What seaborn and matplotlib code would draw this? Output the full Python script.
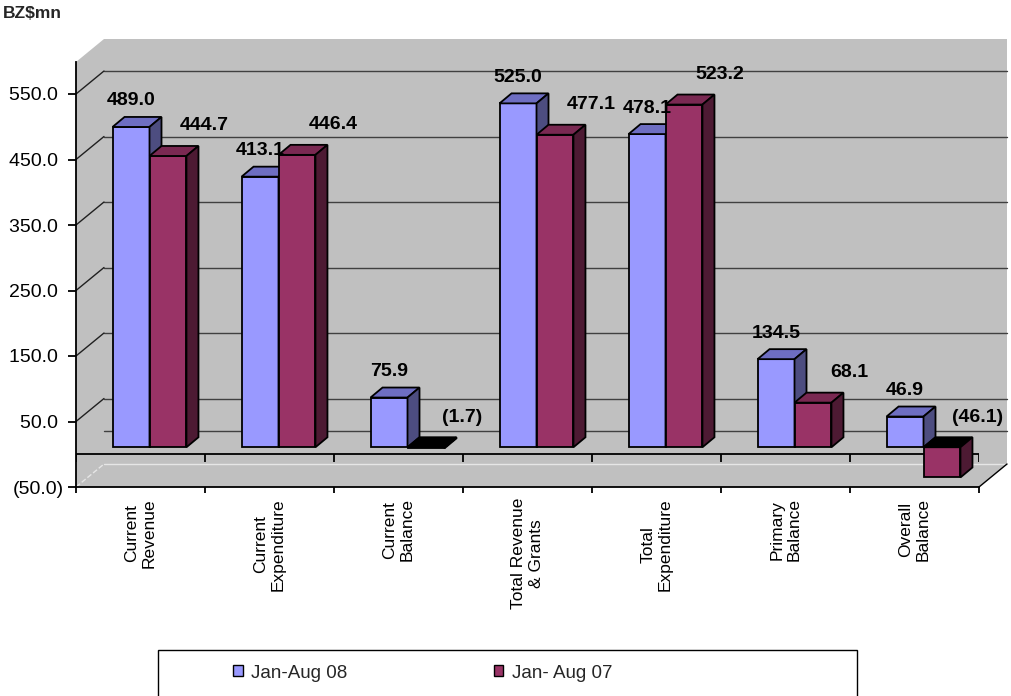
import matplotlib
matplotlib.use("Agg")
import matplotlib.pyplot as plt
import numpy as np
import pandas as pd
import seaborn as sns
from matplotlib.patches import Polygon, Rectangle, Patch
from matplotlib.transforms import ScaledTranslation

# ---------------- data ----------------
categories = ["Current\nRevenue", "Current\nExpenditure", "Current\nBalance",
              "Total Revenue\n& Grants", "Total\nExpenditure", "Primary\nBalance",
              "Overall\nBalance"]
series = ["Jan-Aug 08", "Jan- Aug 07"]
jan_aug_08 = [489.0, 413.1, 75.9, 525.0, 478.1, 134.5, 46.9]
jan_aug_07 = [444.7, 446.4, -1.7, 477.1, 523.2, 68.1, -46.1]
y_ticks = [-50, 50, 150, 250, 350, 450, 550]
unit_label = r"BZ\$mn"


def fmt(v):
    return f"({abs(v):.1f})" if v < 0 else f"{v:.1f}"


# ---------------- style ----------------
W, H, DPI = 1011, 696, 100
sns.set_theme(style="white")
plt.rcParams["font.family"] = ["Liberation Sans", "DejaVu Sans"]

front_c = ["#9999FF", "#993366"]
top_c = ["#6E6EC2", "#7A2952"]
side_c = ["#4D4D80", "#4D1A33"]
wall_c = "#C0C0C0"

fig = plt.figure(figsize=(W / DPI, H / DPI), dpi=DPI)
fig.patch.set_facecolor("white")
L, R, B, T = 76, 979, 487, 62          # front plane of the plot in pixels
ax = fig.add_axes([L / W, (H - B) / H, (R - L) / W, (B - T) / H])
ax.set_facecolor("none")

df = pd.DataFrame({
    "category": categories * 2,
    "series": [series[0]] * len(categories) + [series[1]] * len(categories),
    "value": jan_aug_08 + jan_aug_07,
})
sns.barplot(data=df, x="category", y="value", hue="series", order=categories,
            hue_order=series, palette=front_c, saturation=1, width=0.573,
            edgecolor="black", linewidth=1.3, legend=False, ax=ax)

ax.set_xlim(-0.5, len(categories) - 0.5)
ax.set_ylim(-50, -50 + (B - T) / (393 / 600))

p0 = ax.transData.transform((0, 0))
p1 = ax.transData.transform((1, 1))
sx, sy = p1[0] - p0[0], p1[1] - p0[1]   # pixels per data unit


def shift(dx, dy):
    return ax.transData + ScaledTranslation(dx / DPI, dy / DPI, fig.dpi_scale_trans)


# ---------------- walls / grid ----------------
WX, WY = 28, 23                        # depth of the walls in pixels
fx, fy = WX / (R - L), WY / (B - T)
ax.add_patch(Polygon([(0, 0), (0, 1), (fx, 1 + fy), (1 + fx, 1 + fy), (1 + fx, fy), (1, 0)],
                     closed=True, transform=ax.transAxes, facecolor=wall_c,
                     edgecolor="none", clip_on=False, zorder=0))
x_lo, x_hi = ax.get_xlim()
back = shift(WX, WY)
wdx, wdy = WX / sx, WY / sy
for yv in y_ticks:
    if yv == y_ticks[0]:
        ax.plot([x_lo, x_hi], [yv, yv], transform=back, color="#E6E6E6", lw=1, clip_on=False, zorder=1)
        ax.plot([x_lo, x_lo + wdx], [yv, yv + wdy], color="#E6E6E6", lw=1, ls="--", clip_on=False, zorder=1)
    else:
        ax.plot([x_lo, x_hi], [yv, yv], transform=back, color="#404040", lw=1, clip_on=False, zorder=1)
        ax.plot([x_lo, x_lo + wdx], [yv, yv + wdy], color="#202020", lw=1, clip_on=False, zorder=1)
ax.plot([x_lo, x_hi], [0, 0], transform=back, color="#404040", lw=1, clip_on=False, zorder=1)
# floor right edge
ax.plot([x_hi, x_hi + wdx], [-50, -50 + wdy], color="black", lw=1, clip_on=False, zorder=1)

# front zero line (category axis) with its ticks
bounds = np.arange(len(categories) + 1) - 0.5
ax.plot([x_lo, x_hi], [0, 0], color="black", lw=1.3, zorder=2)
ax.vlines(bounds, -8 / sy, 0, color="black", lw=1.3, zorder=2)

# ---------------- 3-D bars ----------------
bar_tr = shift(9, 7)
ddx, ddy = 12 / sx, 10 / sy
values = [jan_aug_08, jan_aug_07]
label_off = [(0, 26), (36, 30)]
for i, cont in enumerate(ax.containers):
    z = 3 + i
    for rect, v in zip(cont.patches, values[i]):
        rect.set_transform(bar_tr)
        rect.set_zorder(z)
        x0, w = rect.get_x(), rect.get_width()
        x1 = x0 + w
        y0, h = rect.get_y(), rect.get_height()
        yb, yt = min(y0, y0 + h), max(y0, y0 + h)
        ax.add_patch(Polygon([(x0, yt), (x1, yt), (x1 + ddx, yt + ddy), (x0 + ddx, yt + ddy)],
                             closed=True, facecolor=top_c[i] if v >= 0 else "black",
                             edgecolor="black", lw=1.3, transform=bar_tr, zorder=z))
        ax.add_patch(Polygon([(x1, yb), (x1, yt), (x1 + ddx, yt + ddy), (x1 + ddx, yb + ddy)],
                             closed=True, facecolor=side_c[i], edgecolor="black",
                             lw=1.3, transform=bar_tr, zorder=z))
        ax.annotate(fmt(v), xy=(x0 + w / 2, max(v, 0)), xycoords=bar_tr,
                    xytext=label_off[i], textcoords="offset pixels",
                    ha="center", va="center", fontsize=14, fontweight="bold",
                    color="black", zorder=6, annotation_clip=False)

# ---------------- axes ----------------
for s in ["top", "right"]:
    ax.spines[s].set_visible(False)
for s in ["left", "bottom"]:
    ax.spines[s].set_color("black")
    ax.spines[s].set_linewidth(1.3)
    ax.spines[s].set_zorder(2)

ax.set_yticks(y_ticks)
ax.set_yticklabels([fmt(v) if v < 0 else fmt(v) + " " for v in y_ticks], fontsize=14)
ax.tick_params(axis="y", direction="out", length=6, width=1.3, color="black", pad=3, labelcolor="black", left=True)

ax.set_xticks(bounds)
ax.set_xticklabels([""] * len(bounds))
ax.set_xticks(np.arange(len(categories)), minor=True)
ax.set_xticklabels(categories, minor=True, rotation=90, ha="center", va="top",
                   multialignment="center", fontsize=12.5)
ax.tick_params(axis="x", which="major", direction="out", length=4.5, width=1.3, color="black", bottom=True)
ax.tick_params(axis="x", which="minor", length=0, pad=8, labelcolor="black")
ax.set_xlabel("")
ax.set_ylabel("")
ax.grid(False)

# ---------------- legend & title ----------------
fig.text(3 / W, 1 - 14 / H, unit_label, fontsize=12.5, fontweight="bold", ha="left", va="center")
fig.patches.append(Rectangle((158 / W, -0.05), (857 - 158) / W, (H - 650) / H + 0.05,
                             transform=fig.transFigure, fill=False, edgecolor="black",
                             lw=1, figure=fig))
handles = [Patch(facecolor=front_c[k], edgecolor="black", lw=1) for k in range(2)]
fig.legend(handles, series, loc="center left", bbox_to_anchor=(233 / W, (H - 673) / H),
           ncol=2, frameon=False, handlelength=0.53, handleheight=0.53, handletextpad=0.43,
           columnspacing=7.8, fontsize=13.5, borderpad=0, borderaxespad=0)

fig.savefig("out.png", dpi=DPI)
